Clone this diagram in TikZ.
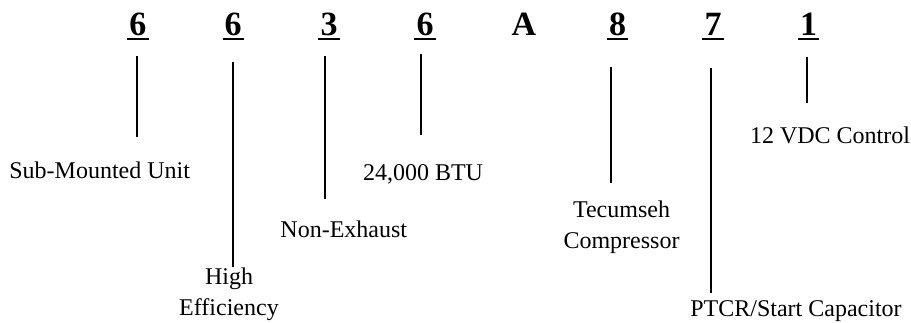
\documentclass[tikz,border=0pt]{standalone}
\usepackage{fontspec}
\setmainfont{Liberation Serif}
\begin{document}
\begin{tikzpicture}[x=1pt,y=-1pt,
  digit/.style={font=\fontsize{34}{40}\selectfont\bfseries, anchor=base, inner xsep=2pt, inner ysep=0pt},
  lbl/.style={font=\fontsize{24}{30.5}\selectfont, anchor=base, inner sep=0pt, align=center},
  conn/.style={line width=1.8pt},
  uline/.style={line width=2pt}]
\useasboundingbox (0,0) rectangle (911,322);
% code characters
\node[digit] (d1) at (137.8,35) {6};
\node[digit] (d2) at (233.2,35) {6};
\node[digit] (d3) at (329,35) {3};
\node[digit] (d4) at (425,35) {6};
\node[digit] (dA) at (524,35) {A};
\node[digit] (d5) at (617.5,35) {8};
\node[digit] (d6) at (713,35) {7};
\node[digit] (d7) at (808.5,35) {1};
\foreach \d in {d1,d2,d3,d4,d5,d6,d7}
  \draw[uline] ([yshift=-3.5pt]\d.base west) -- ([yshift=-3.5pt]\d.base east);
% labels (multi-line: base = last line)
\node[lbl] (t1) at (99.7,178.3) {Sub-Mounted Unit};
\node[lbl] (t2) at (229,315) {High\\Efficiency};
\node[lbl] (t3) at (343.8,237.3) {Non-Exhaust};
\node[lbl] (t4) at (423,180) {24,000 BTU};
\node[lbl] (t5) at (621.5,248.3) {Tecumseh\\Compressor};
\node[lbl] (t6) at (796,316.7) {PTCR/Start Capacitor};
\node[lbl] (t7) at (830,143.3) {12 VDC Control};
% connector ends
\coordinate (a1) at (136.7,56);   \coordinate (b1) at (136.7,136.7);
\coordinate (a2) at (233.3,61.7); \coordinate (b2) at (233.3,266.7);
\coordinate (a3) at (325,56);     \coordinate (b3) at (325,199.3);
\coordinate (a4) at (421,54);     \coordinate (b4) at (421,135);
\coordinate (a5) at (610.7,66.7); \coordinate (b5) at (610.7,182.7);
\coordinate (a6) at (710.7,68);   \coordinate (b6) at (710.7,292.7);
\coordinate (a7) at (806.7,57);   \coordinate (b7) at (806.7,103);
\foreach \i in {1,...,7}
  \draw[conn] (a\i) -- (b\i);
\end{tikzpicture}
\end{document}
